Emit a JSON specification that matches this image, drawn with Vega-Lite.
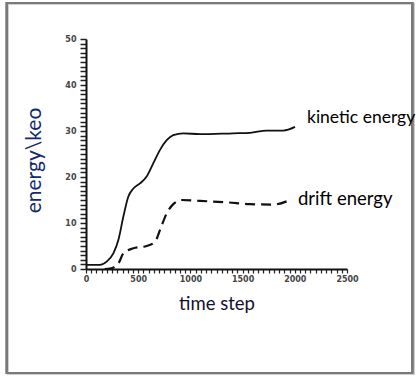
{
  "$schema": "https://vega.github.io/schema/vega-lite/v6.json",
  "autosize": "none",
  "width": 261,
  "height": 230,
  "padding": {"left": 86, "top": 39, "right": 73, "bottom": 107},
  "background": "white",
  "config": {"view": {"stroke": null}},
  "data": {
    "values": [
      {"series": "kinetic energy", "t": 0, "e": 0.9},
      {"series": "kinetic energy", "t": 134, "e": 0.9},
      {"series": "kinetic energy", "t": 198, "e": 1.6},
      {"series": "kinetic energy", "t": 262, "e": 3.4},
      {"series": "kinetic energy", "t": 310, "e": 6.3},
      {"series": "kinetic energy", "t": 358, "e": 11.4},
      {"series": "kinetic energy", "t": 405, "e": 15.7},
      {"series": "kinetic energy", "t": 454, "e": 17.5},
      {"series": "kinetic energy", "t": 517, "e": 18.6},
      {"series": "kinetic energy", "t": 581, "e": 20.1},
      {"series": "kinetic energy", "t": 645, "e": 23.0},
      {"series": "kinetic energy", "t": 709, "e": 25.9},
      {"series": "kinetic energy", "t": 773, "e": 28.0},
      {"series": "kinetic energy", "t": 836, "e": 29.1},
      {"series": "kinetic energy", "t": 932, "e": 29.5},
      {"series": "kinetic energy", "t": 1092, "e": 29.3},
      {"series": "kinetic energy", "t": 1411, "e": 29.5},
      {"series": "kinetic energy", "t": 1571, "e": 29.6},
      {"series": "kinetic energy", "t": 1730, "e": 30.1},
      {"series": "kinetic energy", "t": 1890, "e": 30.1},
      {"series": "kinetic energy", "t": 2002, "e": 30.9},
      {"series": "drift energy", "t": 180, "e": 0.0},
      {"series": "drift energy", "t": 230, "e": 0.1},
      {"series": "drift energy", "t": 310, "e": 1.2},
      {"series": "drift energy", "t": 358, "e": 3.4},
      {"series": "drift energy", "t": 454, "e": 4.5},
      {"series": "drift energy", "t": 581, "e": 5.0},
      {"series": "drift energy", "t": 661, "e": 5.9},
      {"series": "drift energy", "t": 709, "e": 8.5},
      {"series": "drift energy", "t": 773, "e": 12.1},
      {"series": "drift energy", "t": 836, "e": 14.1},
      {"series": "drift energy", "t": 916, "e": 15.0},
      {"series": "drift energy", "t": 1092, "e": 14.8},
      {"series": "drift energy", "t": 1348, "e": 14.5},
      {"series": "drift energy", "t": 1571, "e": 14.1},
      {"series": "drift energy", "t": 1794, "e": 14.0},
      {"series": "drift energy", "t": 1954, "e": 15.0}
    ]
  },
  "encoding": {
    "x": {
      "field": "t", "type": "quantitative",
      "scale": {"domain": [0, 2500], "nice": false},
      "axis": {
        "title": "time step",
        "values": [0, 50, 100, 150, 200, 250, 300, 350, 400, 450, 500, 550, 600, 650, 700, 750, 800, 850, 900, 950, 1000, 1050, 1100, 1150, 1200, 1250, 1300, 1350, 1400, 1450, 1500, 1550, 1600, 1650, 1700, 1750, 1800, 1850, 1900, 1950, 2000, 2050, 2100, 2150, 2200, 2250, 2300, 2350, 2400, 2450, 2500],
        "labelExpr": "datum.value % 500 === 0 ? datum.label : ''",
        "format": "d",
        "grid": false,
        "domainColor": "#111", "domainWidth": 2,
        "tickColor": "#222", "tickWidth": 1.2,
        "tickSize": 4,
        "labelFont": "DejaVu Sans", "labelFontSize": 8, "labelFontWeight": "bold", "labelColor": "#444",
        "labelPadding": 2, "labelFlush": false, "labelOverlap": false,
        "titleFont": "Lato", "titleFontSize": 18.5, "titleFontWeight": "normal", "titleColor": "#140f30",
        "titleY": 40, "titleBaseline": "alphabetic"
      }
    },
    "y": {
      "field": "e", "type": "quantitative",
      "scale": {"domain": [0, 50], "nice": false},
      "axis": {
        "title": "energy\\keo",
        "values": [0, 1, 2, 3, 4, 5, 6, 7, 8, 9, 10, 11, 12, 13, 14, 15, 16, 17, 18, 19, 20, 21, 22, 23, 24, 25, 26, 27, 28, 29, 30, 31, 32, 33, 34, 35, 36, 37, 38, 39, 40, 41, 42, 43, 44, 45, 46, 47, 48, 49, 50],
        "labelExpr": "datum.value % 10 === 0 ? datum.label : ''",
        "grid": false,
        "domainColor": "#111", "domainWidth": 2,
        "tickColor": "#222", "tickWidth": 1.5,
        "tickSize": 6,
        "labelFont": "DejaVu Sans", "labelFontSize": 8, "labelFontWeight": "bold", "labelColor": "#444",
        "labelPadding": 4, "labelOverlap": false, "labelFlush": false,
        "titleFont": "Lato", "titleFontSize": 21, "titleFontWeight": "normal", "titleColor": "#132a6e",
        "titleX": -46, "titleY": 121, "titleAngle": -90, "titleBaseline": "alphabetic"
      }
    }
  },
  "layer": [
    {
      "mark": {"type": "rect", "fill": null, "stroke": "#cfcfcf", "strokeWidth": 2, "clip": false},
      "encoding": {
        "x": {"datum": -747},
        "x2": {"datum": 3133},
        "y": {"datum": 57.6},
        "y2": {"datum": -22.8}
      }
    },
    {
      "mark": {"type": "rect", "fill": null, "stroke": "#7a7a7a", "strokeWidth": 2, "clip": false},
      "encoding": {
        "x": {"datum": -757},
        "x2": {"datum": 3123},
        "y": {"datum": 57.8},
        "y2": {"datum": -22.6}
      }
    },
    {
      "transform": [{"filter": "datum.series === 'kinetic energy'"}],
      "mark": {"type": "line", "color": "#111", "strokeWidth": 1.8, "interpolate": "monotone"}
    },
    {
      "transform": [{"filter": "datum.series === 'drift energy'"}],
      "mark": {"type": "line", "color": "#111", "strokeWidth": 2.2, "strokeDash": [10, 6], "interpolate": "monotone"}
    },
    {
      "transform": [
        {"joinaggregate": [{"op": "max", "field": "t", "as": "tmax"}], "groupby": ["series"]},
        {"filter": "datum.t === datum.tmax && datum.series === 'kinetic energy'"}
      ],
      "mark": {"type": "text", "align": "left", "baseline": "middle", "dx": 12, "dy": -9, "font": "Lato", "fontSize": 17.5, "color": "#000"},
      "encoding": {"text": {"field": "series"}}
    },
    {
      "transform": [
        {"joinaggregate": [{"op": "max", "field": "t", "as": "tmax"}], "groupby": ["series"]},
        {"filter": "datum.t === datum.tmax && datum.series === 'drift energy'"}
      ],
      "mark": {"type": "text", "align": "left", "baseline": "middle", "dx": 8, "dy": -1, "font": "Lato", "fontSize": 18.5, "color": "#000"},
      "encoding": {"text": {"field": "series"}}
    }
  ]
}
